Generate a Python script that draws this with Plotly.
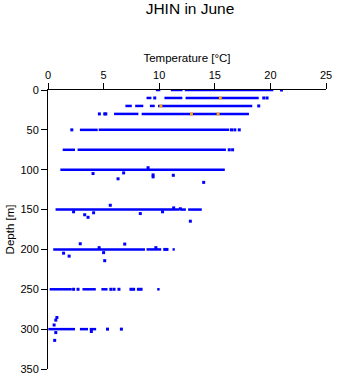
import plotly.graph_objects as go

# ---- data (temperature in °C, depth in m) ----
# continuous bands of observations: depth, start temperature, end temperature
band_depth = [0, 0, 0,
              10, 10, 10,
              20, 20, 20, 20,
              30, 30,
              50, 50,
              75, 75,
              100,
              150, 150, 150,
              200, 200, 200,
              250, 250, 250, 250,
              300, 300, 300]
band_tmin = [9.7, 11.05, 12.3,
             8.86, 10.47, 12.37,
             6.96, 7.84, 9.16, 9.89,
             5.94, 8.42,
             2.87, 4.56,
             1.32, 2.66,
             1.11,
             0.68, 11.9, 12.6,
             0.47, 8.86, 11.2,
             0.15, 3.1, 4.8, 9.82,
             0.03, 2.87, 3.75]
band_tmax = [10.1, 12.1, 20.26,
             9.3, 12.08, 18.95,
             7.54, 8.57, 9.6, 18.37,
             8.13, 18.07,
             4.47, 16.3,
             2.43, 16.0,
             15.9,
             11.8, 12.4, 13.83,
             8.72, 10.18, 11.4,
             2.14, 4.3, 5.35, 10.04,
             2.43, 3.6, 4.33]

# isolated observations (blue)
pt_temp = [21.0, 9.6, 19.4, 19.7, 18.95, 4.62, 5.1, 5.2, 2.14, 16.5, 16.8, 17.2,
           16.3, 16.6, 2.3, 2.7, 5.65, 5.94, 6.38, 7.46, 7.7, 8.13, 8.37, 10.5, 10.7,
           5.35, 6.6,
           4.05, 6.8, 6.3, 9.45, 9.45, 11.27, 14.0, 9.0,
           5.6, 2.3, 3.3, 3.6, 4.1, 8.3, 10.3, 11.3, 11.9, 12.8,
           2.9, 1.4, 1.9, 4.6, 5.0, 5.1, 6.9, 9.7,
           0.8, 0.7, 0.55, 0.6, 0.7, 3.9]
pt_depth = [0, 10, 10, 10, 20, 30, 30, 30, 50, 50, 50, 50,
            75, 75, 250, 250, 250, 250, 250, 250, 250, 250, 250, 200, 200,
            300, 300,
            104.8, 104, 111.4, 106.5, 109, 107, 115.9, 97.5,
            144.6, 152.8, 156.5, 159.7, 154, 155, 152.8, 147.9, 149, 164.6,
            192.9, 204.7, 208.4, 197.8, 204, 214.1, 193.3, 197.8,
            285.4, 288.7, 294.8, 314.1, 304.3, 303]

# highlighted observations (orange)
hl_temp = [15.5, 10.15, 12.9, 15.3]
hl_depth = [10, 20, 30, 30]

# axis ticks
x_ticks = [0, 5, 10, 15, 20, 25]
y_ticks = [0, 50, 100, 150, 200, 250, 300, 350]

BLUE = "#0000ff"
ORANGE = "#ffa500"
FONT = "Liberation Sans, Arial, sans-serif"

seg_x, seg_y = [], []
for d, a, b in zip(band_depth, band_tmin, band_tmax):
    seg_x += [a, b, None]
    seg_y += [d, d, None]

fig = go.Figure()
fig.add_trace(go.Scatter(x=seg_x, y=seg_y, mode="lines",
                         line=dict(color=BLUE, width=2.5), hoverinfo="skip",
                         showlegend=False))
fig.add_trace(go.Scatter(x=pt_temp, y=pt_depth, mode="markers",
                         marker=dict(color=BLUE, size=3, symbol="square",
                                     line=dict(width=0)),
                         showlegend=False))
fig.add_trace(go.Scatter(x=hl_temp, y=hl_depth, mode="markers",
                         marker=dict(color=ORANGE, size=3, symbol="square",
                                     line=dict(width=0)),
                         showlegend=False))

fig.update_layout(
    width=341, height=384,
    margin=dict(l=47, r=9, t=90, b=9, pad=0),
    paper_bgcolor="white", plot_bgcolor="white",
    font=dict(family=FONT, size=11, color="black"),
    title=dict(text="JHIN in June", x=190 / 341, xanchor="center",
               y=1 - 9 / 384, yanchor="middle", yref="container",
               font=dict(size=15.5, color="black", family=FONT)),
    xaxis=dict(side="top", range=[0, 25], tickvals=x_ticks,
               ticks="outside", ticklen=6, tickcolor="black", tickwidth=1,
               showline=True, linecolor="black", linewidth=1,
               showgrid=False, zeroline=False,
               title=dict(text="Temperature [°C]", standoff=3,
                          font=dict(size=11.5)),
               tickfont=dict(size=11)),
    yaxis=dict(range=[350, 0], tickvals=y_ticks,
               ticks="outside", ticklen=6, tickcolor="black", tickwidth=1,
               showline=True, linecolor="black", linewidth=1,
               showgrid=False, zeroline=False,
               title=dict(text="Depth [m]", standoff=3, font=dict(size=11.5)),
               tickfont=dict(size=11)),
)

fig.write_html("out.html")
